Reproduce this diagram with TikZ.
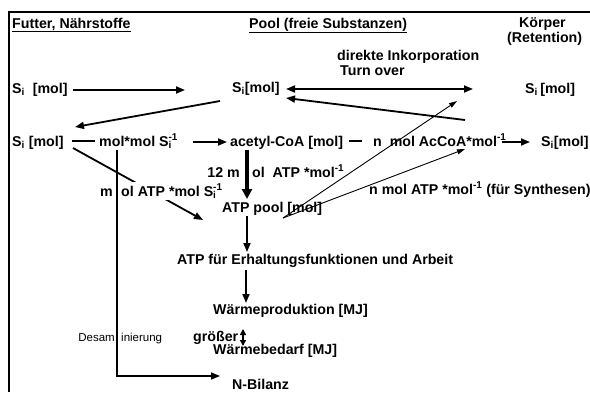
\documentclass[tikz,border=0pt]{standalone}
\usepackage{fontspec}
\setmainfont{Liberation Sans}
\usetikzlibrary{arrows.meta}
\newcommand{\subi}{\textsubscript{i}}
\newcommand{\subsup}{\rlap{\textsubscript{i}}\textsuperscript{-1}}
\begin{document}
\begin{tikzpicture}[x=1pt,y=-1pt,
  lbl/.style={font=\fontsize{14.2}{16}\selectfont\bfseries, inner sep=0pt, anchor=base west},
  lble/.style={lbl, anchor=base east},
  smalllbl/.style={font=\fontsize{11.5}{13}\selectfont, inner sep=0pt, anchor=base west},
  smalllble/.style={smalllbl, anchor=base east},
  arr/.style={line width=1.8pt, -{Triangle[length=9pt,width=7pt]}},
  darr/.style={line width=1.8pt, {Triangle[length=9pt,width=7pt]}-{Triangle[length=9pt,width=7pt]}},
  thickarr/.style={line width=3.6pt, -{Triangle[length=10pt,width=10pt]}},
  thinarr/.style={line width=0.9pt, -{Triangle[length=8pt,width=5pt]}},
  plain/.style={line width=1.8pt},
  framestyle/.style={line width=2pt}]
\useasboundingbox (0,0) rectangle (590,392);
% frame
\coordinate (fTR) at (590,12);
\coordinate (fTL) at (9,12);
\coordinate (fBL) at (9,392);
\draw[framestyle] (fTR) -- (fTL) -- (fBL);

% headers
\node[lbl] (hFut) at (12,28) {\underline{Futter, Nährstoffe}};
\node[lbl] (hPool) at (249,28) {\underline{Pool (freie Substanzen)}};
\node[lbl] (hK1) at (519,27) {Körper};
\node[lbl] (hK2) at (507,42) {(Retention)};
\node[lbl] (dirInk) at (337,60) {direkte Inkorporation};
\node[lbl] (turn) at (340,75) {Turn over};

% row 1
\node[lbl] (siL) at (12,93) {S\subi\ \ [mol]};
\node[lbl] (siM) at (232,92) {S\subi[mol]};
\node[lbl] (siR) at (525,93) {S\subi\,[mol]};

% row 2
\node[lbl] (siL2) at (12,146) {S\subi\ [mol]};
\node[lbl] (molmol) at (99,146) {mol*mol S\subsup};
\node[lbl] (acetyl) at (230,146) {acetyl-CoA [mol]};
\node[lbl] (nmol) at (373,146) {n\ \ mol AcCoA*mol\textsuperscript{-1}};
\node[lbl] (siR2) at (541,146) {S\subi[mol]};

% coordinates for connectors
\coordinate (a1s) at (73,90);   \coordinate (a1e) at (185,90);
\coordinate (d1s) at (286,89);  \coordinate (d1e) at (473,89);
\coordinate (s1s) at (465,120); \coordinate (s1e) at (286,98);
\coordinate (b1s) at (220,101); \coordinate (b1e) at (75,127);
\coordinate (r2a) at (72,141);  \coordinate (r2b) at (95,141);
\coordinate (r2c) at (193,142); \coordinate (r2d) at (227,142);
\coordinate (r2e) at (349,141); \coordinate (r2f) at (362,141);
\coordinate (r2g) at (502,142); \coordinate (r2h) at (530,142);
\coordinate (vTop) at (117,150); \coordinate (vBot) at (117,376); \coordinate (vEnd) at (220,376);
\coordinate (dgS) at (73,148);  \coordinate (dgE) at (203,220);
\coordinate (poolOut) at (283,218);
\coordinate (t1e) at (457,101); \coordinate (t2e) at (465,149);

% row 1 connectors
\draw[arr] (a1s) -- (a1e);
\draw[darr] (d1s) -- (d1e);
\draw[arr] (s1s) -- (s1e);
\draw[arr] (b1s) -- (b1e);

% row 2 connectors
\draw[plain] (r2a) -- (r2b);
\draw[arr] (r2c) -- (r2d);
\draw[plain] (r2e) -- (r2f);
\draw[arr] (r2g) -- (r2h);

% desamination path
\draw[line width=1.6pt, -{Triangle[length=9pt,width=7pt]}] (vTop) -- (vBot) -- (vEnd);

% diagonal Si -> ATP pool
\draw[arr] (dgS) -- (dgE);

% labels around ATP
\node[lble] (l12a) at (240,177) {12 m};
\node[lbl] (l12b) at (252,177) {ol\ \ ATP *mol\textsuperscript{-1}};
\node[lble] (lmA) at (113,196) {m};
\node[lbl, fill=white, inner ysep=2pt] (lmB) at (121,196) {ol ATP *mol S\subsup};
\node[lbl] (nATP) at (369,194) {n mol ATP *mol\textsuperscript{-1} (für Synthesen)};

% thick arrow acetyl-CoA -> ATP pool
\coordinate (k1s) at (247,150); \coordinate (k1e) at (247,199);
\draw[thickarr] (k1s) -- (k1e);

\node[lbl] (pool) at (222,212) {ATP pool [mol]};

% thin arrows from ATP pool
\draw[thinarr] (poolOut) -- (t1e);
\draw[thinarr] (poolOut) -- (t2e);

\node[lbl] (erh) at (177,264) {ATP für Erhaltungsfunktionen und Arbeit};
\node[lbl] (wprod) at (213,314) {Wärmeproduktion [MJ]};
\node[lbl] (groe) at (193,341) {größer};
\node[lbl] (wbed) at (213,354) {Wärmebedarf [MJ]};
\node[lbl] (nbil) at (232,389) {N-Bilanz};
\node[smalllble] (desA) at (115,341) {Desam};
\node[smalllbl] (desB) at (121,341) {inierung};

\coordinate (p1s) at (247,216); \coordinate (p1e) at (247,252);
\coordinate (p2s) at (246,270); \coordinate (p2e) at (246,303);
\coordinate (g1) at (243,329);  \coordinate (g2) at (243,346);
\draw[arr] (p1s) -- (p1e);
\draw[arr] (p2s) -- (p2e);
\draw[line width=1.4pt, {Triangle[length=6pt,width=6pt]}-{Triangle[length=6pt,width=6pt]}] (g1) -- (g2);
\end{tikzpicture}
\end{document}
